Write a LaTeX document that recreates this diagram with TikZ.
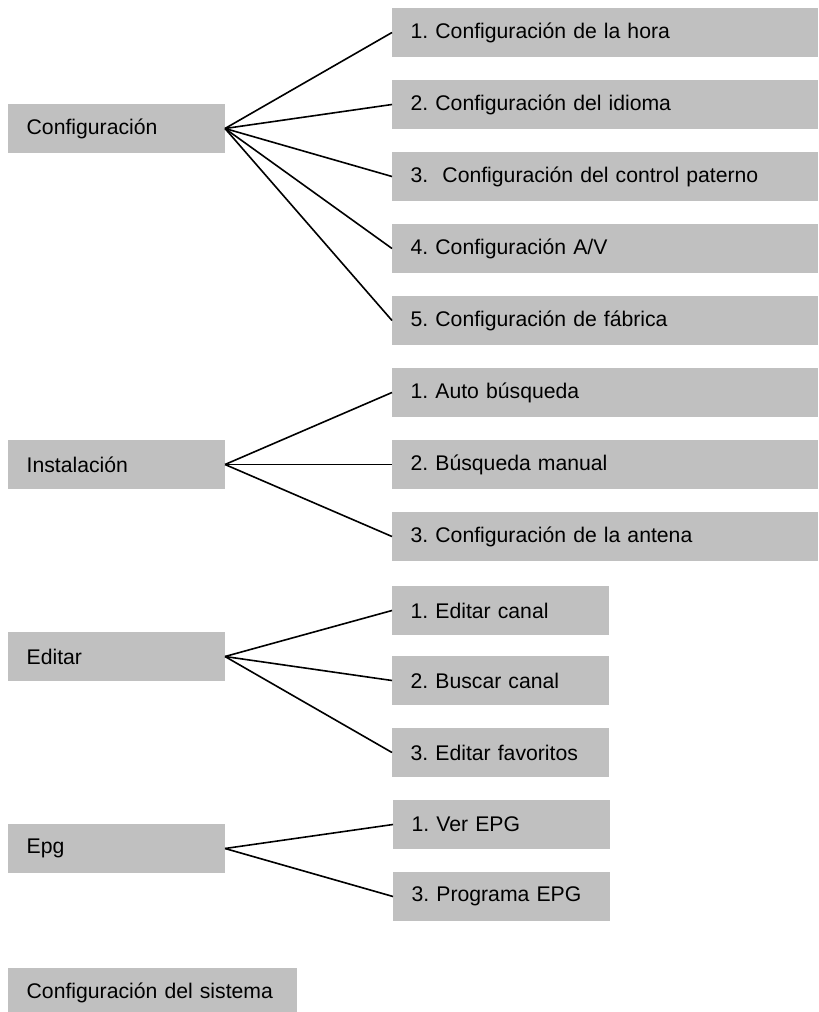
\documentclass[tikz,border=0pt]{standalone}
\usepackage{fontspec}
\setmainfont{Liberation Sans}
\usetikzlibrary{positioning}
\definecolor{boxgray}{RGB}{192,192,192}
\frenchspacing

\begin{document}
\begin{tikzpicture}[x=0.75pt,y=-0.75pt,every node/.style={block},
  block/.style={fill=boxgray,minimum height=36.75pt,inner xsep=14pt,inner ysep=0pt,outer sep=0pt,
    anchor=west,align=left,font=\fontsize{15.9}{19}\selectfont,node distance=17.25pt},
  short/.style={text width=134.75pt},
  long/.style={text width=291.5pt},
  link/.style={line width=1.2pt}]

        \useasboundingbox (0,0) rectangle (818,1012);

        % Configuracion
        \node (cfg) [short] at (8,128.5) {Configuración};
        \node (cfg1) [long] at (392,32.5) {1. Configuración de la hora};
        \node (cfg2) [long,below = of cfg1] {2. Configuración del idioma};
        \node (cfg3) [long,below = of cfg2] {3.\ \ Configuración del control paterno};
        \node (cfg4) [long,below = of cfg3] {4. Configuración A/V};
        \node (cfg5) [long,below = of cfg4] {5. Configuración de fábrica};

        % Instalacion
        \node (inst) [short] at (8,464.5) {Instalación};
        \node (inst1) [long] at (392,392.5) {1. Auto búsqueda};
        \node (inst2) [long,below = of inst1] {2. Búsqueda manual};
        \node (inst3) [long,below = of inst2] {3. Configuración de la antena};

        % Editar
        \node (edit) [short] at (8,656.5) {Editar};
        \node (edit1) [short] at (392,610.5) {1. Editar canal};
        \node (edit2) [short,below = 15.75pt of edit1] {2. Buscar canal};
        \node (edit3) [short,below = of edit2] {3. Editar favoritos};

        % Epg
        \node (epg) [short] at (8,848.5) {Epg};
        \node (epg1) [short] at (393,824.5) {1. Ver EPG};
        \node (epg2) [short,below = of epg1] {3. Programa EPG};

        \node (sys) [text width=188.75pt] at (8,992.5) {Configuración del sistema};

        \foreach \i in {1,...,5} \draw[link] (cfg.east) -- (cfg\i.west);
        \foreach \i in {1,2,3} \draw[link] (inst.east) -- (inst\i.west);
        \foreach \i in {1,2,3} \draw[link] (edit.east) -- (edit\i.west);
        \foreach \i in {1,2} \draw[link] (epg.east) -- (epg\i.west);
      \end{tikzpicture}
\end{document}
